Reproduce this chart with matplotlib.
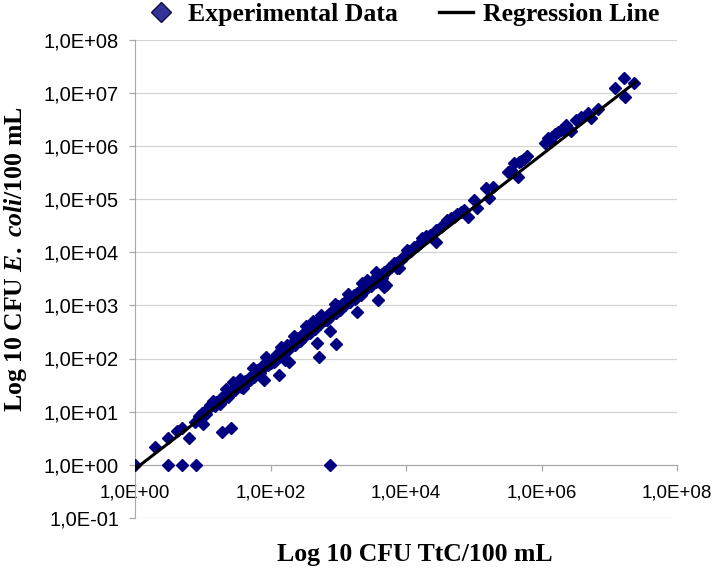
import numpy as np
import matplotlib
matplotlib.use('Agg')
import matplotlib.pyplot as plt
from matplotlib.ticker import FixedLocator, FuncFormatter, NullLocator
from matplotlib.lines import Line2D

plt.rcParams['font.family'] = ['Liberation Sans', 'DejaVu Sans']
plt.rcParams['mathtext.fontset'] = 'custom'
plt.rcParams['mathtext.rm'] = 'Liberation Serif:bold'
plt.rcParams['mathtext.it'] = 'Liberation Serif:bold:italic'

# log10 CFU/100 mL
log_ttc = [0.00, 0.49, 0.70, 0.90, 2.88,
           0.30, 0.49, 0.62, 0.69, 0.79, 0.89, 0.99, 1.00,
           1.28, 1.41, 1.11, 1.26, 1.41, 1.45, 1.60, 1.70, 1.85, 1.90, 2.12, 2.00, 2.22, 2.24,
           2.27, 2.71, 2.69, 2.97, 2.88, 3.28, 3.58, 3.67, 3.87,
           0.95, 1.02, 1.05, 1.10, 1.14, 1.18, 1.20, 1.24, 1.27, 1.30, 1.33, 1.36, 1.38, 1.42,
           1.45, 1.48, 1.50, 1.53, 1.56, 1.58, 1.62, 1.65, 1.68, 1.72, 1.75, 1.78, 1.80, 1.83,
           1.86, 1.88, 1.92, 1.95, 1.97, 2.00, 2.03, 2.06, 2.08, 2.10, 2.13, 2.16, 2.18, 2.20,
           2.23, 2.26, 2.28, 2.30, 2.33, 2.36, 2.38, 2.40, 2.43, 2.46, 2.48, 2.50, 2.53, 2.56,
           2.58, 2.60, 2.63, 2.66, 2.68, 2.70, 2.73, 2.76, 2.78, 2.80, 2.83, 2.86, 2.88, 2.90,
           2.93, 2.96, 2.98, 3.00, 3.03, 3.06, 3.08, 3.10, 3.13, 3.16, 3.18, 3.20, 3.23, 3.26,
           3.28, 3.30, 3.33, 3.36, 3.38, 3.40, 3.43, 3.46, 3.48, 3.50, 3.53, 3.56, 3.58, 3.62,
           3.65, 3.68, 3.72, 3.75, 3.78, 3.82, 3.85, 3.88, 3.92, 3.95, 3.98, 4.05, 4.08,
           3.43, 3.70, 3.82, 3.90, 4.02, 4.12, 4.24, 4.44, 4.44, 4.51, 4.61, 4.71, 4.81, 4.91,
           5.00, 5.05, 5.18, 5.28, 5.23, 5.50, 5.60, 5.65, 5.67,
           4.06, 4.16, 4.20, 4.30, 4.35, 4.55, 4.66, 4.76, 4.86,
           5.55, 5.70, 5.74, 5.78,
           6.05, 6.09, 6.12, 6.16, 6.20, 6.25, 6.29, 6.33, 6.36, 6.43, 6.51, 6.58, 6.68, 6.73,
           6.83, 7.08, 7.22, 7.23, 7.37,
           # second row of the dense band
           1.15, 1.35, 1.55, 1.74, 1.94, 2.15, 2.35, 2.52, 2.62, 2.75, 2.95, 3.15, 3.35, 3.55,
           1.25, 1.66, 2.05, 2.44, 2.84, 3.24, 3.64]
log_ecoli = [0.00, 0.00, 0.00, 0.00, 0.00,
             0.33, 0.50, 0.63, 0.69, 0.50, 0.81, 0.97, 0.77,
             0.61, 0.70, 1.13, 1.19, 1.35, 1.55, 1.44, 1.60, 1.72, 1.60, 1.69, 1.91, 1.97, 2.26,
             1.94, 2.02, 2.29, 2.27, 2.51, 2.88, 3.10, 3.35, 3.70,
             0.92, 1.00, 0.95, 1.08, 1.12, 1.10, 1.18, 1.20, 1.25, 1.24, 1.30, 1.33, 1.28, 1.38,
             1.42, 1.40, 1.47, 1.50, 1.46, 1.55, 1.58, 1.56, 1.64, 1.68, 1.66, 1.74, 1.78, 1.72,
             1.82, 1.85, 1.86, 1.92, 1.88, 1.96, 2.00, 1.95, 2.05, 2.08, 2.02, 2.12, 2.15, 2.10,
             2.20, 2.24, 2.18, 2.28, 2.30, 2.26, 2.35, 2.38, 2.33, 2.44, 2.46, 2.40, 2.50, 2.54,
             2.48, 2.58, 2.60, 2.56, 2.65, 2.70, 2.64, 2.74, 2.76, 2.72, 2.80, 2.84, 2.78, 2.88,
             2.90, 2.86, 2.95, 2.98, 2.92, 3.02, 3.05, 3.00, 3.10, 3.12, 3.06, 3.16, 3.20, 3.14,
             3.24, 3.26, 3.20, 3.32, 3.34, 3.28, 3.38, 3.42, 3.36, 3.46, 3.48, 3.44, 3.52, 3.56,
             3.58, 3.62, 3.64, 3.70, 3.72, 3.75, 3.80, 3.82, 3.86, 3.90, 3.92, 4.00, 4.02,
             3.48, 3.38, 3.79, 3.70, 4.04, 4.10, 4.26, 4.20, 4.42, 4.48, 4.61, 4.67, 4.76, 4.67,
             4.98, 4.83, 5.20, 5.23, 5.01, 5.51, 5.67, 5.42, 5.70,
             4.02, 4.12, 4.18, 4.30, 4.32, 4.52, 4.64, 4.72, 4.80,
             5.55, 5.72, 5.76, 5.80,
             6.05, 6.14, 6.10, 6.17, 6.22, 6.26, 6.30, 6.30, 6.39, 6.27, 6.48, 6.55, 6.61, 6.52,
             6.70, 7.08, 7.27, 6.91, 7.19,
             1.20, 1.42, 1.62, 1.82, 2.02, 2.22, 2.42, 2.62, 2.70, 2.82, 3.02, 3.22, 3.42, 3.62,
             1.14, 1.55, 1.94, 2.33, 2.72, 3.12, 3.52]

# regression line (log-log)
reg_slope = 0.985
reg_intercept = -0.08
reg_range = [0.0, 7.40]

ttc = 10.0 ** np.array(log_ttc)
ecoli = 10.0 ** np.array(log_ecoli)
reg_x = 10.0 ** np.array(reg_range)
reg_y = 10.0 ** (reg_intercept + reg_slope * np.array(reg_range))

fig = plt.figure(figsize=(7.12, 5.68), dpi=100)
ax = fig.add_axes([135/712, 1-518/568, 542/712, 478.5/568])

navy = '#000080'
ax.plot(ttc, ecoli, ls='none', marker='D', ms=6, mfc=navy, mec=navy, zorder=3)
ax.plot(reg_x, reg_y, color='black', lw=2.2, zorder=4)

ax.set_xscale('log')
ax.set_yscale('log')
ax.set_xlim(1, 1e8)
ax.set_ylim(1e-1, 1e8)

ax.xaxis.set_major_locator(FixedLocator([1, 1e2, 1e4, 1e6, 1e8]))
ax.yaxis.set_major_locator(FixedLocator([10.0 ** k for k in range(-1, 9)]))
ax.xaxis.set_minor_locator(NullLocator())
ax.yaxis.set_minor_locator(NullLocator())
fmt = FuncFormatter(lambda v, p: f'{v:.1E}'.replace('.', ','))
ax.xaxis.set_major_formatter(fmt)
ax.yaxis.set_major_formatter(fmt)

ax.grid(axis='y', color='#D4D4D4', lw=0.9, zorder=0)
ax.set_axisbelow(True)
for s in ['top', 'right']:
    ax.spines[s].set_visible(False)
ax.spines['bottom'].set_position(('data', 1))
ax.spines['bottom'].set_color('#A8A8A8')
ax.spines['left'].set_color('#A8A8A8')
ax.tick_params(axis='both', colors='#A8A8A8', labelcolor='black',
               direction='out', length=4.5, width=0.9)
ax.tick_params(axis='y', pad=7, labelsize=14.5)
ax.tick_params(axis='x', pad=10, labelsize=13.5)

fig.text(415/712, 1-555/568, 'Log 10 CFU TtC/100 mL', ha='center', va='center',
         family='Liberation Serif', weight='bold', fontsize=18.5)
fig.text(16/712, 1-259/568, r'Log 10 CFU $\mathit{E.\ coli}$/100 mL', ha='center', va='center',
         rotation=90, family='Liberation Serif', weight='bold', fontsize=18.5)

handles = [Line2D([], [], ls='none', marker='D', ms=10, mfc='#333399', mec='#101040'),
           Line2D([], [], color='black', lw=2.4)]
fig.legend(handles, ['Experimental Data', 'Regression Line'], loc='center',
           bbox_to_anchor=(402/712, 1-14/568), ncol=2, frameon=False,
           prop={'family': 'Liberation Serif', 'weight': 'bold', 'size': 18.5},
           handlelength=1.3, handletextpad=0.4, columnspacing=1.6, borderaxespad=0)

fig.savefig('out.png', dpi=100)
